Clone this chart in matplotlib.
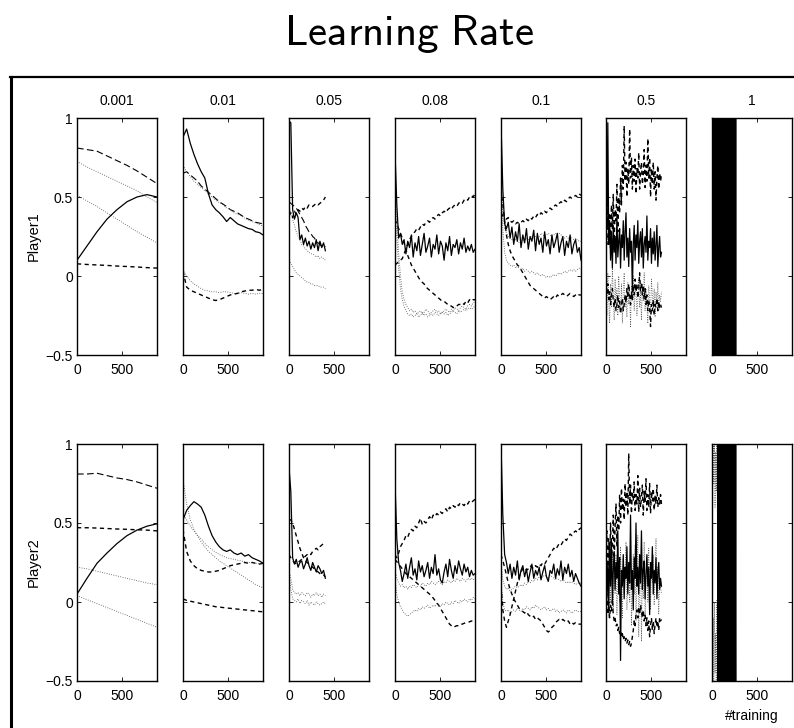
import numpy as np
import matplotlib
matplotlib.use('Agg')
import matplotlib.pyplot as plt
from matplotlib.lines import Line2D

plt.rcParams['font.family'] = 'Liberation Sans'
plt.rcParams['mathtext.fontset'] = 'cm'
plt.rcParams['axes.unicode_minus'] = True

# column headers (learning rates) and row labels
rates = ['0.001', '0.01', '0.05', '0.08', '0.1', '0.5', '1']
players = ['Player1', 'Player2']
ytick_vals = [-0.5, 0, 0.5, 1]
ytick_labels = ['\u22120.5', '0', '0.5', '1']
xtick_vals = [0, 500]

# ---------------- Player1 ----------------
# lr 0.001 (x 0..880)
p1_a_long = [0.81, 0.80, 0.79, 0.76, 0.73, 0.70, 0.665, 0.625, 0.585]
p1_a_dot1 = [0.725, 0.69, 0.66, 0.63, 0.60, 0.57, 0.54, 0.50, 0.465]
p1_a_dot2 = [0.51, 0.475, 0.44, 0.40, 0.36, 0.32, 0.28, 0.245, 0.21]
p1_a_solid = [0.10, 0.19, 0.28, 0.36, 0.42, 0.47, 0.50, 0.515, 0.50]
p1_a_short = [0.077, 0.073, 0.07, 0.067, 0.063, 0.06, 0.057, 0.053, 0.05]

# lr 0.01 (x 0..880)
p1_b_solid = [0.88, 0.93, 0.84, 0.77, 0.71, 0.66, 0.62, 0.52, 0.45, 0.42, 0.40, 0.375,
              0.345, 0.37, 0.35, 0.33, 0.32, 0.31, 0.30, 0.295, 0.28, 0.275, 0.26]
p1_b_long = [0.65, 0.66, 0.64, 0.62, 0.60, 0.57, 0.55, 0.53, 0.51, 0.49, 0.47, 0.455,
             0.44, 0.42, 0.41, 0.40, 0.385, 0.37, 0.36, 0.35, 0.34, 0.335, 0.33]
p1_b_dot1 = [0.70, 0.66, 0.63, 0.60, 0.58, 0.56, 0.54, 0.52, 0.50, 0.48, 0.465, 0.45,
             0.43, 0.42, 0.40, 0.39, 0.38, 0.365, 0.355, 0.345, 0.335, 0.325, 0.315]
p1_b_short = [0.03, -0.07, -0.09, -0.10, -0.11, -0.12, -0.13, -0.14, -0.15, -0.155, -0.15,
              -0.14, -0.13, -0.12, -0.115, -0.11, -0.10, -0.095, -0.09, -0.09, -0.085, -0.09, -0.085]
p1_b_dot2 = [0.04, 0.0, -0.03, -0.05, -0.065, -0.08, -0.09, -0.095, -0.10, -0.10, -0.105,
             -0.10, -0.10, -0.105, -0.11, -0.11, -0.105, -0.11, -0.115, -0.11, -0.115, -0.11, -0.11]

# lr 0.05 (x 0..400)
p1_c_solid = [0.98, 0.97, 0.42, 0.36, 0.40, 0.37, 0.23, 0.26, 0.20, 0.24, 0.19, 0.22, 0.17,
              0.21, 0.18, 0.23, 0.16, 0.22, 0.18, 0.21, 0.16]
p1_c_short = [0.38, 0.40, 0.37, 0.41, 0.39, 0.42, 0.41, 0.43, 0.42, 0.44, 0.43, 0.45, 0.44,
              0.44, 0.45, 0.46, 0.45, 0.46, 0.47, 0.48, 0.50]
p1_c_long = [0.47, 0.46, 0.45, 0.44, 0.43, 0.41, 0.39, 0.37, 0.35, 0.32, 0.30, 0.28, 0.27,
             0.25, 0.24, 0.22, 0.21, 0.20, 0.19, 0.18, 0.19]
p1_c_dot1 = [0.44, 0.40, 0.36, 0.32, 0.28, 0.25, 0.23, 0.20, 0.19, 0.17, 0.16, 0.15, 0.14,
             0.14, 0.13, 0.12, 0.13, 0.11, 0.12, 0.11, 0.10]
p1_c_dot2 = [0.10, 0.08, 0.06, 0.04, 0.02, 0.01, 0.0, -0.01, -0.02, -0.03, -0.04, -0.04, -0.05,
             -0.05, -0.06, -0.06, -0.06, -0.07, -0.07, -0.07, -0.08]

# lr 0.08 (x 0..880)
p1_d_solid = [0.78, 0.45, 0.24, 0.27, 0.20, 0.23, 0.14, 0.22, 0.18, 0.26, 0.12, 0.21, 0.16,
              0.25, 0.13, 0.20, 0.27, 0.15, 0.19, 0.24, 0.12, 0.20, 0.17, 0.26, 0.14, 0.22,
              0.19, 0.10, 0.21, 0.16, 0.25, 0.13, 0.20, 0.18, 0.23, 0.14, 0.21, 0.17, 0.24,
              0.15, 0.19, 0.16, 0.20, 0.15, 0.17]
p1_d_short = [0.07, 0.08, 0.09, 0.10, 0.11, 0.14, 0.17, 0.20, 0.23, 0.25, 0.27, 0.28, 0.30,
              0.29, 0.31, 0.33, 0.32, 0.34, 0.35, 0.34, 0.36, 0.37, 0.36, 0.38, 0.39, 0.38,
              0.40, 0.41, 0.40, 0.42, 0.43, 0.42, 0.44, 0.45, 0.44, 0.46, 0.47, 0.46, 0.48,
              0.49, 0.48, 0.50, 0.51, 0.50, 0.52]
p1_d_long = [0.36, 0.33, 0.30, 0.27, 0.24, 0.21, 0.17, 0.13, 0.10, 0.07, 0.05, 0.03, 0.01,
             -0.01, -0.03, -0.04, -0.05, -0.07, -0.08, -0.09, -0.10, -0.11, -0.12, -0.13,
             -0.14, -0.15, -0.16, -0.16, -0.17, -0.18, -0.19, -0.19, -0.20, -0.19, -0.19,
             -0.18, -0.18, -0.17, -0.18, -0.16, -0.17, -0.15, -0.16, -0.15, -0.15]
p1_d_dot1 = [0.60, 0.35, 0.15, 0.0, -0.10, -0.15, -0.18, -0.20, -0.22, -0.21, -0.23, -0.22,
             -0.24, -0.23, -0.22, -0.24, -0.23, -0.21, -0.22, -0.24, -0.23, -0.22, -0.21,
             -0.23, -0.22, -0.24, -0.23, -0.22, -0.21, -0.22, -0.23, -0.21, -0.22, -0.20,
             -0.21, -0.22, -0.20, -0.19, -0.20, -0.21, -0.19, -0.18, -0.19, -0.17, -0.16]
p1_d_dot2 = [0.45, 0.25, 0.05, -0.08, -0.15, -0.19, -0.22, -0.24, -0.25, -0.24, -0.26, -0.25,
             -0.24, -0.26, -0.25, -0.23, -0.25, -0.24, -0.26, -0.25, -0.24, -0.25, -0.23,
             -0.24, -0.25, -0.24, -0.23, -0.24, -0.23, -0.25, -0.24, -0.23, -0.22, -0.23,
             -0.24, -0.22, -0.23, -0.22, -0.21, -0.22, -0.21, -0.20, -0.21, -0.20, -0.19]

# lr 0.1 (x 0..880)
p1_e_solid = [0.97, 0.55, 0.33, 0.30, 0.34, 0.24, 0.31, 0.20, 0.28, 0.22, 0.33, 0.18, 0.26,
              0.21, 0.30, 0.17, 0.25, 0.22, 0.29, 0.16, 0.27, 0.20, 0.24, 0.15, 0.28, 0.19,
              0.23, 0.14, 0.26, 0.18, 0.22, 0.27, 0.15, 0.21, 0.25, 0.13, 0.22, 0.18, 0.26,
              0.14, 0.20, 0.23, 0.15, 0.18, 0.10]
p1_e_short = [0.40, 0.38, 0.37, 0.36, 0.37, 0.35, 0.34, 0.35, 0.33, 0.34, 0.33, 0.34, 0.35,
              0.34, 0.36, 0.35, 0.37, 0.36, 0.38, 0.37, 0.39, 0.38, 0.40, 0.39, 0.41, 0.40,
              0.42, 0.43, 0.42, 0.44, 0.45, 0.44, 0.46, 0.47, 0.46, 0.48, 0.47, 0.49, 0.50,
              0.49, 0.50, 0.51, 0.50, 0.52, 0.51]
p1_e_long = [0.55, 0.45, 0.35, 0.26, 0.20, 0.16, 0.13, 0.11, 0.09, 0.07, 0.06, 0.04, 0.02,
             0.0, -0.02, -0.04, -0.06, -0.07, -0.08, -0.09, -0.10, -0.11, -0.12, -0.13,
             -0.14, -0.13, -0.14, -0.15, -0.14, -0.13, -0.14, -0.12, -0.13, -0.12, -0.11,
             -0.12, -0.13, -0.12, -0.11, -0.12, -0.13, -0.12, -0.11, -0.12, -0.12]
p1_e_dot1 = [0.60, 0.40, 0.30, 0.27, 0.25, 0.24, 0.23, 0.22, 0.23, 0.22, 0.21, 0.22, 0.23,
             0.22, 0.24, 0.23, 0.24, 0.25, 0.24, 0.25, 0.26, 0.25, 0.27, 0.26, 0.25, 0.26,
             0.27, 0.26, 0.25, 0.26, 0.27, 0.26, 0.27, 0.26, 0.25, 0.24, 0.25, 0.24, 0.25,
             0.24, 0.23, 0.24, 0.23, 0.22, 0.22]
p1_e_dot2 = [0.50, 0.30, 0.15, 0.10, 0.08, 0.07, 0.06, 0.07, 0.05, 0.06, 0.05, 0.04, 0.05,
             0.03, 0.04, 0.03, 0.02, 0.03, 0.02, 0.01, 0.02, 0.01, 0.0, 0.01, 0.0, -0.01,
             0.0, -0.01, 0.0, 0.01, 0.0, 0.01, 0.02, 0.01, 0.02, 0.03, 0.02, 0.03, 0.04,
             0.03, 0.04, 0.03, 0.04, 0.05, 0.04]

# lr 0.5 (x 0..610)
p1_f_short = [0.35, 0.20, 0.48, 0.25, 0.40, 0.18, 0.45, 0.30, 0.52, 0.22, 0.42, 0.35, 0.58,
              0.28, 0.50, 0.40, 0.62, 0.45, 0.70, 0.55, 0.95, 0.60, 0.72, 0.50, 0.68, 0.58,
              0.93, 0.62, 0.75, 0.55, 0.70, 0.60, 0.74, 0.52, 0.68, 0.62, 0.78, 0.55, 0.66,
              0.72, 0.58, 0.64, 0.80, 0.56, 0.70, 0.60, 0.87, 0.62, 0.75, 0.50, 0.68, 0.58,
              0.72, 0.55, 0.66, 0.48, 0.62, 0.70, 0.55, 0.65, 0.60, 0.64]
p1_f_solid = [0.45, 0.30, 0.97, 0.20, 0.35, 0.10, 0.28, 0.05, 0.32, 0.15, 0.25, 0.08, 0.38,
              0.12, 0.22, 0.30, 0.05, 0.26, 0.18, 0.35, 0.10, 0.28, 0.40, 0.12, 0.24, 0.06,
              0.30, 0.15, 0.22, -0.10, 0.20, 0.32, 0.10, 0.26, 0.18, 0.35, 0.08, 0.22, 0.28,
              0.12, 0.30, 0.05, 0.20, 0.25, 0.15, 0.38, 0.10, 0.22, 0.18, 0.30, 0.08, 0.24,
              0.14, 0.28, 0.10, 0.20, 0.32, 0.06, 0.18, 0.25, 0.12, 0.15]
p1_f_dot = [-0.05, -0.25, 0.02, -0.15, -0.30, -0.05, -0.20, 0.05, -0.12, -0.28, -0.02, -0.18,
            -0.08, -0.25, 0.0, -0.15, -0.22, -0.05, -0.30, -0.10, 0.02, -0.20, -0.12, -0.26,
            -0.04, -0.18, -0.10, -0.32, -0.06, -0.15, 0.0, -0.22, -0.12, -0.05, -0.25, -0.15,
            -0.02, -0.20, -0.10, -0.28, -0.05, -0.16, 0.02, -0.22, -0.08, -0.18, -0.30, -0.06,
            -0.14, -0.24, -0.02, -0.12, -0.20, -0.08, -0.26, -0.10, -0.18, -0.04, -0.22, -0.12,
            -0.16, -0.10]
p1_f_long = [-0.08, -0.12, -0.05, -0.15, -0.10, -0.18, -0.12, -0.08, -0.16, -0.20, -0.14,
             -0.22, -0.18, -0.12, -0.20, -0.16, -0.24, -0.19, -0.14, -0.22, -0.18, -0.12,
             -0.17, -0.08, -0.14, -0.05, -0.12, -0.18, -0.10, -0.15, -0.06, -0.12, -0.02,
             -0.10, -0.05, -0.14, -0.08, 0.02, -0.10, -0.04, -0.12, -0.06, -0.15, -0.08,
             -0.18, -0.12, -0.22, -0.15, -0.20, -0.32, -0.18, -0.22, -0.15, -0.25, -0.18,
             -0.20, -0.14, -0.22, -0.16, -0.20, -0.18, -0.20]

# lr 1 (x 5..265): diverges, swings past the axis limits
p1_g_solid = [1.4, -0.9, 1.3, -0.8, 1.5, -1.0, 1.2, -0.7, 1.4, -0.9, 1.3, -1.1, 1.5, -0.8,
              1.2, -0.9, 1.4, -1.0, 1.3, -0.8, 1.5, -0.9, 1.2, -1.0, 1.4, -0.8, 1.3, -0.9,
              1.5, -1.1, 1.2, -0.8, 1.4, -0.9, 1.3, -1.0, 1.5, -0.8, 1.2, -0.9, 1.4, -1.0,
              1.3, -0.8, 1.5, -0.9, 1.2, -1.1, 1.4, -0.8, 1.3, -0.9, 1.5, -1.0, 1.2, -0.8,
              1.4, -0.9, 1.3, -1.0]

# ---------------- Player2 ----------------
p2_a_long = [0.81, 0.81, 0.815, 0.80, 0.785, 0.775, 0.76, 0.74, 0.72]
p2_a_short = [0.47, 0.47, 0.468, 0.465, 0.462, 0.46, 0.457, 0.455, 0.45]
p2_a_solid = [0.05, 0.15, 0.245, 0.31, 0.37, 0.42, 0.455, 0.48, 0.495]
p2_a_dot1 = [0.22, 0.21, 0.195, 0.18, 0.165, 0.15, 0.135, 0.12, 0.11]
p2_a_dot2 = [0.04, 0.015, -0.01, -0.035, -0.06, -0.085, -0.11, -0.135, -0.16]

p2_b_solid = [0.52, 0.58, 0.61, 0.635, 0.62, 0.60, 0.55, 0.48, 0.42, 0.38, 0.35, 0.33, 0.32,
              0.33, 0.31, 0.30, 0.31, 0.29, 0.30, 0.28, 0.27, 0.26, 0.245]
p2_b_long = [0.46, 0.32, 0.26, 0.23, 0.21, 0.20, 0.195, 0.19, 0.19, 0.195, 0.20, 0.21, 0.22,
             0.23, 0.235, 0.24, 0.245, 0.25, 0.245, 0.25, 0.245, 0.24, 0.245]
p2_b_dot1 = [0.78, 0.62, 0.52, 0.46, 0.42, 0.38, 0.35, 0.32, 0.30, 0.28, 0.26, 0.245, 0.23,
             0.215, 0.20, 0.185, 0.17, 0.155, 0.14, 0.125, 0.11, 0.10, 0.09]
p2_b_dot2 = [0.56, 0.52, 0.48, 0.45, 0.42, 0.40, 0.37, 0.35, 0.33, 0.315, 0.30, 0.29, 0.28,
             0.275, 0.27, 0.265, 0.26, 0.255, 0.25, 0.25, 0.245, 0.245, 0.24]
p2_b_short = [0.02, 0.01, 0.005, 0.0, -0.005, -0.01, -0.015, -0.02, -0.025, -0.03, -0.032,
              -0.035, -0.038, -0.04, -0.043, -0.045, -0.048, -0.05, -0.052, -0.055, -0.057,
              -0.06, -0.062]

p2_c_solid = [0.85, 0.70, 0.28, 0.24, 0.27, 0.22, 0.25, 0.26, 0.21, 0.24, 0.28, 0.23, 0.20,
              0.25, 0.22, 0.19, 0.23, 0.21, 0.18, 0.20, 0.15]
p2_c_long = [0.52, 0.52, 0.50, 0.46, 0.42, 0.38, 0.34, 0.31, 0.28, 0.26, 0.25, 0.24, 0.23,
             0.22, 0.21, 0.20, 0.19, 0.18, 0.17, 0.17, 0.16]
p2_c_short = [0.30, 0.28, 0.26, 0.25, 0.24, 0.25, 0.26, 0.27, 0.28, 0.29, 0.30, 0.31, 0.30,
              0.32, 0.33, 0.34, 0.33, 0.35, 0.36, 0.37, 0.38]
p2_c_dot1 = [0.20, 0.15, 0.08, 0.06, 0.05, 0.06, 0.04, 0.06, 0.05, 0.04, 0.06, 0.05, 0.03,
             0.05, 0.04, 0.06, 0.04, 0.05, 0.03, 0.05, 0.04]
p2_c_dot2 = [0.18, 0.08, 0.02, 0.01, 0.0, 0.02, -0.01, 0.01, 0.0, -0.01, 0.01, -0.02, 0.0,
             -0.01, -0.02, 0.0, -0.01, -0.02, -0.01, 0.0, -0.01]

p2_d_solid = [0.76, 0.40, 0.25, 0.20, 0.13, 0.18, 0.24, 0.15, 0.22, 0.28, 0.17, 0.21, 0.14,
              0.26, 0.19, 0.23, 0.16, 0.20, 0.25, 0.15, 0.22, 0.18, 0.30, 0.17, 0.21, 0.14,
              0.12, 0.19, 0.24, 0.16, 0.27, 0.20, 0.15, 0.23, 0.18, 0.26, 0.21, 0.17, 0.24,
              0.19, 0.22, 0.16, 0.20, 0.17, 0.18]
p2_d_short = [0.30, 0.28, 0.31, 0.35, 0.37, 0.39, 0.42, 0.41, 0.44, 0.46, 0.45, 0.48, 0.47,
              0.50, 0.53, 0.49, 0.51, 0.50, 0.52, 0.54, 0.52, 0.55, 0.54, 0.56, 0.55, 0.57,
              0.56, 0.58, 0.59, 0.57, 0.60, 0.59, 0.61, 0.60, 0.62, 0.61, 0.63, 0.62, 0.61,
              0.63, 0.62, 0.64, 0.63, 0.64, 0.65]
p2_d_long = [0.27, 0.255, 0.24, 0.225, 0.21, 0.195, 0.18, 0.17, 0.16, 0.15, 0.14, 0.13, 0.12,
             0.11, 0.10, 0.09, 0.08, 0.07, 0.06, 0.05, 0.04, 0.025, 0.01, -0.005, -0.02,
             -0.04, -0.06, -0.08, -0.10, -0.12, -0.14, -0.15, -0.16, -0.155, -0.15, -0.15,
             -0.14, -0.14, -0.135, -0.13, -0.13, -0.125, -0.12, -0.125, -0.12]
p2_d_dot1 = [0.20, 0.15, 0.12, 0.10, 0.11, 0.09, 0.10, 0.08, 0.10, 0.09, 0.11, 0.10, 0.09,
             0.11, 0.10, 0.12, 0.11, 0.10, 0.12, 0.11, 0.13, 0.12, 0.11, 0.12, 0.13, 0.12,
             0.11, 0.13, 0.12, 0.14, 0.13, 0.12, 0.14, 0.13, 0.15, 0.14, 0.13, 0.15, 0.14,
             0.13, 0.15, 0.14, 0.15, 0.14, 0.15]
p2_d_dot2 = [0.15, 0.05, 0.0, -0.03, -0.05, -0.07, -0.08, -0.09, -0.08, -0.07, -0.06, -0.05,
             -0.06, -0.04, -0.05, -0.03, -0.04, -0.03, -0.02, -0.04, -0.03, -0.02, -0.03,
             -0.01, -0.02, -0.03, -0.01, -0.02, 0.0, -0.01, -0.02, 0.0, -0.01, 0.01, 0.0,
             -0.01, 0.01, 0.0, 0.02, 0.01, 0.0, 0.02, 0.01, 0.03, 0.02]

p2_e_solid = [1.00, 0.55, 0.30, 0.25, 0.18, 0.24, 0.15, 0.22, 0.17, 0.26, 0.14, 0.20, 0.23,
              0.16, 0.21, 0.13, 0.19, 0.24, 0.15, 0.20, 0.17, 0.22, 0.14, 0.19, 0.23, 0.16,
              0.13, 0.20, 0.18, 0.24, 0.15, 0.21, 0.17, 0.26, 0.14, 0.22, 0.18, 0.24, 0.16,
              0.20, 0.13, 0.18, 0.15, 0.12, 0.10]
p2_e_short = [0.10, -0.05, -0.12, -0.16, -0.12, -0.08, -0.03, 0.02, 0.07, 0.12, 0.16, 0.19,
              0.21, 0.22, 0.20, 0.21, 0.23, 0.22, 0.21, 0.23, 0.22, 0.24, 0.23, 0.25, 0.24,
              0.26, 0.28, 0.30, 0.32, 0.34, 0.33, 0.35, 0.37, 0.36, 0.38, 0.40, 0.39, 0.41,
              0.43, 0.42, 0.44, 0.45, 0.44, 0.46, 0.47]
p2_e_long = [0.30, 0.26, 0.22, 0.17, 0.12, 0.08, 0.05, 0.02, 0.0, -0.02, -0.04, -0.05, -0.06,
             -0.07, -0.06, -0.08, -0.09, -0.10, -0.09, -0.11, -0.10, -0.11, -0.12, -0.14,
             -0.16, -0.18, -0.19, -0.18, -0.16, -0.15, -0.13, -0.12, -0.11, -0.12, -0.11,
             -0.12, -0.13, -0.12, -0.14, -0.13, -0.14, -0.13, -0.14, -0.14, -0.14]
p2_e_dot1 = [0.25, 0.14, 0.10, 0.08, 0.09, 0.07, 0.08, 0.09, 0.10, 0.09, 0.10, 0.11, 0.10,
             0.12, 0.11, 0.13, 0.12, 0.14, 0.13, 0.15, 0.14, 0.16, 0.15, 0.16, 0.17, 0.16,
             0.15, 0.17, 0.16, 0.15, 0.14, 0.15, 0.14, 0.13, 0.14, 0.13, 0.12, 0.13, 0.12,
             0.13, 0.12, 0.11, 0.12, 0.12, 0.12]
p2_e_dot2 = [0.15, 0.0, -0.05, -0.06, -0.05, -0.07, -0.06, -0.05, -0.06, -0.04, -0.05, -0.06,
             -0.04, -0.05, -0.03, -0.04, -0.05, -0.03, -0.04, -0.02, -0.03, -0.04, -0.05,
             -0.04, -0.03, -0.05, -0.04, -0.06, -0.05, -0.04, -0.06, -0.05, -0.07, -0.06,
             -0.05, -0.06, -0.07, -0.05, -0.06, -0.07, -0.06, -0.05, -0.06, -0.06, -0.06]

p2_f_short = [0.30, 0.45, 0.15, 0.40, 0.22, 0.50, 0.28, 0.35, 0.55, 0.25, 0.48, 0.62, 0.35,
              0.55, 0.45, 0.68, 0.50, 0.72, 0.58, 0.65, 0.52, 0.75, 0.60, 0.70, 0.55, 0.94,
              0.62, 0.74, 0.56, 0.70, 0.64, 0.76, 0.58, 0.68, 0.62, 0.80, 0.57, 0.72, 0.60,
              0.66, 0.74, 0.55, 0.70, 0.63, 0.78, 0.58, 0.68, 0.60, 0.75, 0.56, 0.70, 0.64,
              0.72, 0.58, 0.67, 0.62, 0.74, 0.60, 0.66, 0.62, 0.68, 0.62]
p2_f_solid = [0.30, 0.05, 0.25, -0.05, 0.35, 0.10, 0.40, 0.0, 0.20, 0.32, 0.08, 0.25, 0.15,
              0.45, 0.05, 0.28, -0.37, 0.20, 0.10, 0.30, 0.02, 0.22, 0.15, 0.35, 0.05, 0.25,
              0.12, 0.55, 0.08, 0.20, -0.05, 0.28, 0.15, 0.50, 0.10, 0.22, 0.05, 0.30, 0.12,
              0.45, 0.08, 0.20, 0.26, 0.02, 0.18, 0.30, 0.10, 0.22, -0.08, 0.25, 0.15, 0.35,
              0.05, 0.20, 0.12, 0.28, 0.02, 0.18, 0.25, 0.08, 0.15, 0.10]
p2_f_dot = [0.10, -0.05, 0.20, -0.10, 0.28, 0.0, 0.15, 0.32, -0.05, 0.22, 0.05, 0.30, -0.08,
            0.18, 0.26, 0.0, 0.35, 0.10, -0.10, 0.28, 0.05, 0.20, 0.38, -0.05, 0.15, 0.25,
            0.0, 0.40, -0.15, 0.12, 0.30, 0.05, 0.36, -0.12, 0.18, 0.42, -0.22, 0.10, 0.30,
            -0.25, 0.20, 0.02, 0.38, -0.10, 0.15, 0.28, 0.0, 0.34, 0.08, -0.05, 0.25, 0.12,
            0.30, -0.02, 0.18, 0.40, 0.05, 0.22, -0.08, 0.15, 0.10, 0.05]
p2_f_long = [-0.05, 0.05, -0.08, 0.0, -0.10, -0.02, -0.06, 0.02, -0.08, -0.12, -0.10, -0.15,
             -0.14, -0.18, -0.16, -0.20, -0.18, -0.22, -0.20, -0.24, -0.22, -0.25, -0.23,
             -0.26, -0.24, -0.27, -0.25, -0.28, -0.26, -0.22, -0.18, -0.12, -0.15, -0.08,
             -0.05, -0.10, -0.03, -0.08, -0.02, -0.06, -0.10, -0.05, -0.12, -0.08, -0.15,
             -0.10, -0.18, -0.12, -0.22, -0.15, -0.10, -0.18, -0.12, -0.20, -0.14, -0.10,
             -0.16, -0.12, -0.18, -0.10, -0.12, -0.11]

# lr 1: sparse start (x 0..60), then full swings (x 60..265)
p2_g_top = [1.0, 0.6, 1.0, 0.75, 1.0, 0.6, 0.95, 0.7, 1.0, 0.58]
p2_g_low = [0.0, -0.5, -0.1, -0.5, 0.0, -0.45, -0.2, -0.5, 0.01, -0.5]
p2_g_solid = [1.4, -0.9, 1.3, -0.8, 1.5, -1.0, 1.2, -0.7, 1.4, -0.9, 1.3, -1.1, 1.5, -0.8,
              1.2, -0.9, 1.4, -1.0, 1.3, -0.8, 1.5, -0.9, 1.2, -1.0, 1.4, -0.8, 1.3, -0.9,
              1.5, -1.1, 1.2, -0.8, 1.4, -0.9, 1.3, -1.0, 1.5, -0.8, 1.2, -0.9, 1.4, -1.0,
              1.3, -0.8, 1.5, -0.9]

# line styles (MATLAB-like)
styles = {
    'solid': dict(color='black', lw=0.9, ls='-'),
    'long': dict(color='black', lw=0.8, ls=(0, (6, 3))),
    'short': dict(color='black', lw=1.0, ls=(0, (3, 2.5))),
    'dot': dict(color='0.3', lw=0.6, ls=(0, (1, 1.8))),
}

# (values, x start, x end, style) per panel
panels = [
    [  # Player1
        [(p1_a_long, 0, 880, 'long'), (p1_a_dot1, 0, 880, 'dot'), (p1_a_dot2, 0, 880, 'dot'),
         (p1_a_solid, 0, 880, 'solid'), (p1_a_short, 0, 880, 'short')],
        [(p1_b_long, 0, 880, 'long'), (p1_b_dot1, 0, 880, 'dot'), (p1_b_dot2, 0, 880, 'dot'),
         (p1_b_short, 0, 880, 'short'), (p1_b_solid, 0, 880, 'solid')],
        [(p1_c_long, 0, 400, 'long'), (p1_c_dot1, 0, 400, 'dot'), (p1_c_dot2, 0, 400, 'dot'),
         (p1_c_short, 0, 400, 'short'), (p1_c_solid, 0, 400, 'solid')],
        [(p1_d_long, 0, 880, 'short'), (p1_d_dot1, 0, 880, 'dot'), (p1_d_dot2, 0, 880, 'dot'),
         (p1_d_short, 0, 880, 'short'), (p1_d_solid, 0, 880, 'solid')],
        [(p1_e_long, 0, 880, 'short'), (p1_e_dot1, 0, 880, 'dot'), (p1_e_dot2, 0, 880, 'dot'),
         (p1_e_short, 0, 880, 'short'), (p1_e_solid, 0, 880, 'solid')],
        [(p1_f_dot, 0, 610, 'dot'), (p1_f_long, 0, 610, 'short'), (p1_f_short, 0, 610, 'short'),
         (p1_f_solid, 0, 610, 'solid')],
        [(p1_g_solid, 5, 265, 'solid')],
    ],
    [  # Player2
        [(p2_a_long, 0, 880, 'long'), (p2_a_dot1, 0, 880, 'dot'), (p2_a_dot2, 0, 880, 'dot'),
         (p2_a_solid, 0, 880, 'solid'), (p2_a_short, 0, 880, 'short')],
        [(p2_b_long, 0, 880, 'short'), (p2_b_dot1, 0, 880, 'dot'), (p2_b_dot2, 0, 880, 'dot'),
         (p2_b_short, 0, 880, 'short'), (p2_b_solid, 0, 880, 'solid')],
        [(p2_c_long, 0, 400, 'short'), (p2_c_dot1, 0, 400, 'dot'), (p2_c_dot2, 0, 400, 'dot'),
         (p2_c_short, 0, 400, 'short'), (p2_c_solid, 0, 400, 'solid')],
        [(p2_d_long, 0, 880, 'short'), (p2_d_dot1, 0, 880, 'dot'), (p2_d_dot2, 0, 880, 'dot'),
         (p2_d_short, 0, 880, 'short'), (p2_d_solid, 0, 880, 'solid')],
        [(p2_e_long, 0, 880, 'short'), (p2_e_dot1, 0, 880, 'dot'), (p2_e_dot2, 0, 880, 'dot'),
         (p2_e_short, 0, 880, 'short'), (p2_e_solid, 0, 880, 'solid')],
        [(p2_f_dot, 0, 610, 'dot'), (p2_f_long, 0, 610, 'short'), (p2_f_short, 0, 610, 'short'),
         (p2_f_solid, 0, 610, 'solid')],
        [(p2_g_top, 0, 60, 'dot'), (p2_g_low, 0, 60, 'dot'), (p2_g_solid, 60, 265, 'solid')],
    ],
]

W, H = 794, 728
fig = plt.figure(figsize=(W / 100, H / 100), dpi=100)

col_left = [77, 183, 289, 395, 501, 606, 712]
row_top = [118, 444]
aw, ah = 80, 237

for r in range(2):
    for c in range(7):
        ax = fig.add_axes([col_left[c] / W, 1 - (row_top[r] + ah) / H, aw / W, ah / H])
        for vals, x0, x1, st in panels[r][c]:
            ax.plot(np.linspace(x0, x1, len(vals)), vals, **styles[st])
        ax.set_xlim(0, 880)
        ax.set_ylim(-0.5, 1)
        ax.set_xticks(xtick_vals)
        ax.set_xticklabels([str(v) for v in xtick_vals])
        ax.set_yticks(ytick_vals)
        ax.tick_params(direction='in', top=True, right=True, length=3, width=0.6,
                       labelsize=10)
        ax.tick_params(axis='x', pad=6)
        ax.tick_params(axis='y', pad=3)
        if c == 0:
            ax.set_yticklabels(ytick_labels)
            ax.set_ylabel(players[r], fontsize=10.5)
            ax.yaxis.set_label_coords(-0.45, 0.5)
        else:
            ax.set_yticklabels([])
        if r == 0:
            ax.set_title(rates[c], fontsize=10, pad=9.4)
        for sp in ax.spines.values():
            sp.set_linewidth(1.0)

fig.axes[-1].set_xlabel('#training', fontsize=10, labelpad=4)

fig.text(0.515, 1 - 45 / H, r'$\mathsf{Learning\ Rate}$', fontsize=31,
         ha='center', va='baseline')

# frame around the subplot grid
fig.add_artist(Line2D([10 / W, 1], [1 - 77 / H] * 2, transform=fig.transFigure,
                      color='black', lw=1.6))
fig.add_artist(Line2D([10.5 / W] * 2, [0, 1 - 77 / H], transform=fig.transFigure,
                      color='black', lw=2.2))

fig.savefig('out.png', dpi=100)
